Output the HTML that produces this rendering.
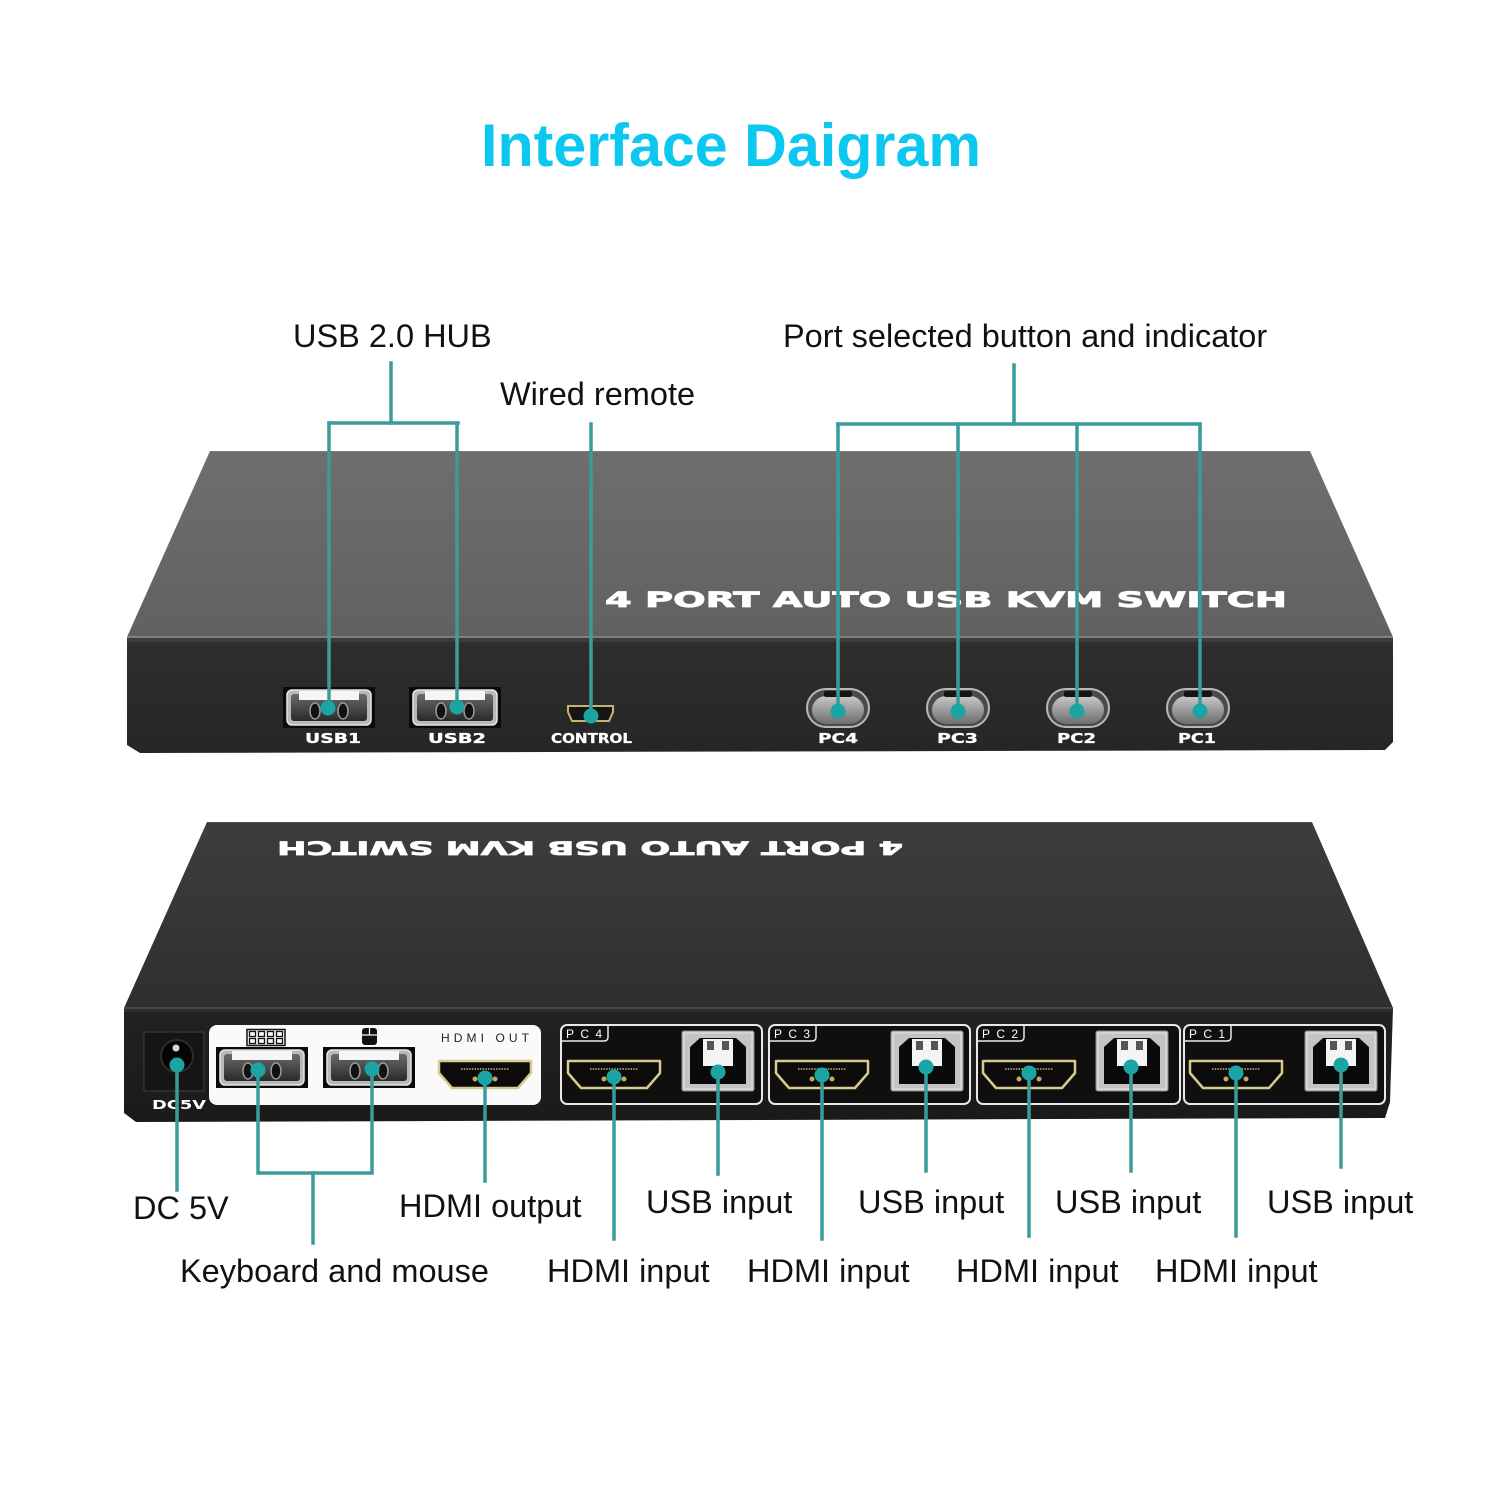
<!DOCTYPE html>
<html>
<head>
<meta charset="utf-8">
<style>
  html,body{margin:0;padding:0;background:#ffffff;}
  svg{display:block;}
  .lbl{font-family:"Liberation Sans",Arial,sans-serif;font-size:32.5px;fill:#111;}
  .dev{font-family:"DejaVu Sans","Liberation Sans",sans-serif;font-weight:bold;fill:#fff;}
</style>
</head>
<body>
<svg width="1500" height="1500" viewBox="0 0 1500 1500" xmlns="http://www.w3.org/2000/svg">
  <defs>
    <linearGradient id="topA" x1="0" y1="0" x2="0" y2="1">
      <stop offset="0" stop-color="#6e6e6e"/>
      <stop offset="1" stop-color="#616161"/>
    </linearGradient>
    <linearGradient id="topB" x1="0" y1="0" x2="0" y2="1">
      <stop offset="0" stop-color="#3d3d3d"/>
      <stop offset="1" stop-color="#2f2f2f"/>
    </linearGradient>
    <linearGradient id="frontA" x1="0" y1="0" x2="0" y2="1">
      <stop offset="0" stop-color="#2e2e2e"/>
      <stop offset="1" stop-color="#262626"/>
    </linearGradient>
    <linearGradient id="frontB" x1="0" y1="0" x2="0" y2="1">
      <stop offset="0" stop-color="#222"/>
      <stop offset="1" stop-color="#1a1a1a"/>
    </linearGradient>
    <linearGradient id="btnG" x1="0" y1="0" x2="0" y2="1">
      <stop offset="0" stop-color="#c8c8c8"/>
      <stop offset="0.5" stop-color="#9a9a9a"/>
      <stop offset="1" stop-color="#6e6e6e"/>
    </linearGradient>
    <linearGradient id="usbIn" x1="0" y1="0" x2="0" y2="1">
      <stop offset="0" stop-color="#6a6a6a"/>
      <stop offset="1" stop-color="#2a2a2a"/>
    </linearGradient>

    <g id="usba">
      <rect width="92" height="41" fill="#0a0a0a"/>
      <rect x="4" y="3" width="84" height="35" rx="5" fill="#b9b9b9" stroke="#e6e6e6" stroke-width="1.5"/>
      <rect x="8" y="7" width="76" height="27" rx="3" fill="url(#usbIn)"/>
      <rect x="16" y="4" width="60" height="9" fill="#f6f6f6"/>
      <ellipse cx="32" cy="24" rx="5" ry="8" fill="#111" stroke="#999" stroke-width="1.5"/>
      <ellipse cx="60" cy="24" rx="5" ry="8" fill="#111" stroke="#999" stroke-width="1.5"/>
    </g>
    <g id="btn">
      <rect x="-31" y="-19" width="62" height="38" rx="19" fill="#4a4a4a" stroke="#b8b8b8" stroke-width="2"/>
      <rect x="-26" y="-12" width="52" height="28" rx="14" fill="url(#btnG)"/>
      <rect x="-14" y="-17" width="28" height="6" rx="2" fill="#151515"/>
    </g>
    <g id="hdmi">
      <path d="M0 0 H92 V12 L79 27 H13 L0 12 Z" fill="#0b0b0b" stroke="#d9cb8e" stroke-width="2.5" stroke-linejoin="round"/>
      <line x1="22" y1="8" x2="70" y2="8" stroke="#9a8c5c" stroke-width="2" stroke-dasharray="1.5 1.2"/>
      <circle cx="36" cy="18" r="2.5" fill="#caa95c"/>
      <circle cx="56" cy="18" r="2.5" fill="#caa95c"/>
    </g>
    <g id="usbb">
      <rect x="0" y="0" width="72" height="60" rx="2" fill="#d4d4d4" stroke="#8a8a8a"/>
      <rect x="3" y="3" width="66" height="54" fill="#c4c4c4"/>
      <path d="M8 16 L18 7 H54 L64 16 V53 H8 Z" fill="#0a0a0a"/>
      <rect x="21" y="8" width="30" height="27" fill="#f4f4f4"/>
      <rect x="25" y="10" width="7" height="9" fill="#555"/>
      <rect x="40" y="10" width="7" height="9" fill="#555"/>
    </g>
  </defs>

  <!-- Title -->
  <text x="731" y="166" text-anchor="middle" font-family="Liberation Sans, Arial, sans-serif" font-weight="bold" font-size="60" fill="#0cc8f0" textLength="500" lengthAdjust="spacingAndGlyphs">Interface Daigram</text>

  <!-- ============ TOP DEVICE ============ -->
  <polygon points="210,451 1310,451 1393,637 127,637" fill="url(#topA)"/>
  <line x1="210" y1="451.5" x2="1310" y2="451.5" stroke="#7a7a7a" stroke-width="1"/>
  <polygon points="127,637 1393,637 1393,742 1385,750 140,753 127,745" fill="url(#frontA)"/>
  <rect x="127" y="637" width="1266" height="5" fill="#3c3c3c"/>
  <line x1="127" y1="637" x2="1393" y2="637" stroke="#8e8e8e" stroke-width="1.5"/>

  <text class="dev" x="605" y="607" font-size="21" textLength="682" lengthAdjust="spacingAndGlyphs" stroke="#fff" stroke-width="0.8">4 PORT AUTO USB KVM SWITCH</text>

  <use href="#usba" x="283" y="687"/>
  <use href="#usba" x="409" y="687"/>
  <path d="M568 706 H613 V712 L609 721 H572 L568 712 Z" fill="#151515" stroke="#c8b46a" stroke-width="2"/>

  <use href="#btn" x="838" y="708"/>
  <use href="#btn" x="958" y="708"/>
  <use href="#btn" x="1078" y="708"/>
  <use href="#btn" x="1198" y="708"/>

  <g class="dev" font-size="13" stroke="#fff" stroke-width="0.3">
    <text x="305" y="743" textLength="56" lengthAdjust="spacingAndGlyphs">USB1</text>
    <text x="428" y="743" textLength="58" lengthAdjust="spacingAndGlyphs">USB2</text>
    <text x="551" y="743" textLength="81" lengthAdjust="spacingAndGlyphs">CONTROL</text>
    <text x="818" y="743" textLength="40" lengthAdjust="spacingAndGlyphs">PC4</text>
    <text x="937" y="743" textLength="41" lengthAdjust="spacingAndGlyphs">PC3</text>
    <text x="1057" y="743" textLength="39" lengthAdjust="spacingAndGlyphs">PC2</text>
    <text x="1178" y="743" textLength="38" lengthAdjust="spacingAndGlyphs">PC1</text>
  </g>

  <!-- ============ BOTTOM DEVICE ============ -->
  <polygon points="207,822 1312,822 1393,1008 124,1008" fill="url(#topB)"/>
  <line x1="207" y1="822.5" x2="1312" y2="822.5" stroke="#4a4a4a" stroke-width="1"/>
  <polygon points="124,1008 1393,1008 1390,1102 1385,1118 136,1122 124,1113" fill="url(#frontB)"/>
  <rect x="124" y="1008" width="1269" height="4" fill="#2e2e2e"/>
  <line x1="124" y1="1008" x2="1393" y2="1008" stroke="#555" stroke-width="1.2"/>

  <text class="dev" x="277" y="855.5" font-size="19" textLength="626" lengthAdjust="spacingAndGlyphs" stroke="#fff" stroke-width="0.7" transform="rotate(180 590 848.5)">4 PORT AUTO USB KVM SWITCH</text>

  <!-- DC jack -->
  <rect x="144" y="1032" width="60" height="59" fill="#151515" stroke="#333" stroke-width="1.5"/>
  <circle cx="177" cy="1056" r="16" fill="#050505" stroke="#2c2c2c" stroke-width="2"/>
  <circle cx="176" cy="1048" r="3.5" fill="#d8d8d8"/>
  <text class="dev" x="152" y="1109" font-size="12" textLength="54" lengthAdjust="spacingAndGlyphs">DC5V</text>

  <!-- white panel -->
  <rect x="209" y="1025" width="332" height="80" rx="8" fill="#fafafa"/>
  <rect x="247" y="1029.5" width="38" height="16" fill="none" stroke="#111" stroke-width="1.5"/>
  <g fill="none" stroke="#111" stroke-width="1.3">
    <rect x="249.5" y="1031.5" width="6" height="5"/><rect x="258.5" y="1031.5" width="6" height="5"/>
    <rect x="267.5" y="1031.5" width="6" height="5"/><rect x="276.5" y="1031.5" width="6" height="5"/>
    <rect x="249.5" y="1038.5" width="6" height="5"/><rect x="258.5" y="1038.5" width="6" height="5"/>
    <rect x="267.5" y="1038.5" width="6" height="5"/><rect x="276.5" y="1038.5" width="6" height="5"/>
  </g>
  <use href="#usba" x="216" y="1047"/>
  <use href="#usba" x="323" y="1047"/>
  <rect x="362" y="1028" width="15" height="17" rx="3" fill="#111"/>
  <line x1="362" y1="1035" x2="377" y2="1035" stroke="#fff" stroke-width="1.2"/>
  <line x1="369.5" y1="1028" x2="369.5" y2="1035" stroke="#fff" stroke-width="1.2"/>
  <text x="441" y="1042" font-family="Liberation Sans, Arial, sans-serif" font-size="12" fill="#222" textLength="88" lengthAdjust="spacing">HDMI OUT</text>
  <use href="#hdmi" x="439" y="1061"/>

  <!-- PC panels -->
  <g>
    <rect x="561" y="1025" width="201" height="79" rx="6" fill="#0f0f0f" stroke="#e8e8e8" stroke-width="2"/>
    <path d="M562 1041 H604 Q608 1041 608 1037 V1026" fill="none" stroke="#e8e8e8" stroke-width="1.5"/>
    <text x="566" y="1038" font-family="Liberation Sans, Arial, sans-serif" font-size="12" fill="#fff" textLength="36" lengthAdjust="spacing">PC4</text>
    <use href="#hdmi" x="568" y="1061"/>
    <use href="#usbb" x="682" y="1031"/>
  </g>
  <g>
    <rect x="769" y="1025" width="201" height="79" rx="6" fill="#0f0f0f" stroke="#e8e8e8" stroke-width="2"/>
    <path d="M770 1041 H812 Q816 1041 816 1037 V1026" fill="none" stroke="#e8e8e8" stroke-width="1.5"/>
    <text x="774" y="1038" font-family="Liberation Sans, Arial, sans-serif" font-size="12" fill="#fff" textLength="36" lengthAdjust="spacing">PC3</text>
    <use href="#hdmi" x="776" y="1061"/>
    <use href="#usbb" x="891" y="1031"/>
  </g>
  <g>
    <rect x="977" y="1025" width="203" height="79" rx="6" fill="#0f0f0f" stroke="#e8e8e8" stroke-width="2"/>
    <path d="M978 1041 H1020 Q1024 1041 1024 1037 V1026" fill="none" stroke="#e8e8e8" stroke-width="1.5"/>
    <text x="982" y="1038" font-family="Liberation Sans, Arial, sans-serif" font-size="12" fill="#fff" textLength="36" lengthAdjust="spacing">PC2</text>
    <use href="#hdmi" x="983" y="1061"/>
    <use href="#usbb" x="1096" y="1031"/>
  </g>
  <g>
    <rect x="1184" y="1025" width="201" height="79" rx="6" fill="#0f0f0f" stroke="#e8e8e8" stroke-width="2"/>
    <path d="M1185 1041 H1227 Q1231 1041 1231 1037 V1026" fill="none" stroke="#e8e8e8" stroke-width="1.5"/>
    <text x="1189" y="1038" font-family="Liberation Sans, Arial, sans-serif" font-size="12" fill="#fff" textLength="36" lengthAdjust="spacing">PC1</text>
    <use href="#hdmi" x="1190" y="1061"/>
    <use href="#usbb" x="1305" y="1031"/>
  </g>

  <!-- ============ CONNECTORS ============ -->
  <g fill="none" stroke="#3a9c9a" stroke-width="3.5" stroke-linecap="square">
    <path d="M391 363 V423"/>
    <path d="M329 423 H458"/>
    <path d="M329 423 V708"/>
    <path d="M457 423 V707"/>
    <path d="M591 424 V716"/>
    <path d="M1014 365 V424"/>
    <path d="M838 424 H1200"/>
    <path d="M838 424 V711"/>
    <path d="M958 424 V711"/>
    <path d="M1077 424 V711"/>
    <path d="M1200 424 V711"/>
    <path d="M177 1065 V1190"/>
    <path d="M258 1070 V1173 H372 V1069"/>
    <path d="M313 1173 V1243"/>
    <path d="M485 1078 V1181"/>
    <path d="M614 1077 V1239"/>
    <path d="M718 1072 V1174"/>
    <path d="M822 1075 V1239"/>
    <path d="M926 1067 V1171"/>
    <path d="M1029 1073 V1236"/>
    <path d="M1131 1067 V1171"/>
    <path d="M1236 1073 V1236"/>
    <path d="M1341 1065 V1167"/>
  </g>
  <g fill="#1aa5a4">
    <circle cx="328" cy="708" r="7.5"/>
    <circle cx="457" cy="707" r="7.5"/>
    <circle cx="591" cy="716" r="7.5"/>
    <circle cx="838" cy="711" r="7.5"/>
    <circle cx="958" cy="711" r="7.5"/>
    <circle cx="1077" cy="711" r="7.5"/>
    <circle cx="1200" cy="711" r="7.5"/>
    <circle cx="177" cy="1065" r="7.5"/>
    <circle cx="258" cy="1070" r="7.5"/>
    <circle cx="372" cy="1069" r="7.5"/>
    <circle cx="485" cy="1078" r="7.5"/>
    <circle cx="614" cy="1077" r="7.5"/>
    <circle cx="718" cy="1072" r="7.5"/>
    <circle cx="822" cy="1075" r="7.5"/>
    <circle cx="926" cy="1067" r="7.5"/>
    <circle cx="1029" cy="1073" r="7.5"/>
    <circle cx="1131" cy="1067" r="7.5"/>
    <circle cx="1236" cy="1073" r="7.5"/>
    <circle cx="1341" cy="1065" r="7.5"/>
  </g>

  <!-- ============ LABELS ============ -->
  <text class="lbl" x="293" y="347">USB 2.0 HUB</text>
  <text class="lbl" x="500" y="405">Wired remote</text>
  <text class="lbl" x="783" y="347">Port selected button and indicator</text>

  <text class="lbl" x="133" y="1219">DC 5V</text>
  <text class="lbl" x="399" y="1217">HDMI output</text>
  <text class="lbl" x="646" y="1213">USB input</text>
  <text class="lbl" x="858" y="1213">USB input</text>
  <text class="lbl" x="1055" y="1213">USB input</text>
  <text class="lbl" x="1267" y="1213">USB input</text>

  <text class="lbl" x="180" y="1282">Keyboard and mouse</text>
  <text class="lbl" x="547" y="1282">HDMI input</text>
  <text class="lbl" x="747" y="1282">HDMI input</text>
  <text class="lbl" x="956" y="1282">HDMI input</text>
  <text class="lbl" x="1155" y="1282">HDMI input</text>
</svg>
</body>
</html>
